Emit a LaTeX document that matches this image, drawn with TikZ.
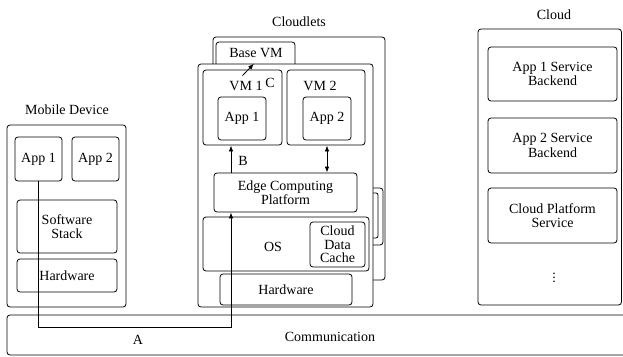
\documentclass[tikz,border=0pt]{standalone}
\usepackage{fontspec}
\setmainfont{Liberation Serif}
\usepackage{tikz}
\usetikzlibrary
  {
    arrows.meta,              % arrow heads
    positioning,              % place nodes relative to other nodes
    calc,
  }

\begin{document}
\begin{tikzpicture}[x=1pt, y=-1pt, line width=0.8pt,
    every node/.style={font=\fontsize{14}{14.5}\selectfont},
    box/.style={draw, rounded corners=3pt, fill=white, inner sep=0pt, align=center},
    flow/.style={-{Latex[length=6pt,width=4.5pt]}},
    flows/.style={{Latex[length=6pt,width=4.5pt]}-{Latex[length=6pt,width=4.5pt]}}]
    \useasboundingbox (0,0) rectangle (623,356);
    \clip (0,0) rectangle (623,356);

    % communication layer at the bottom
    \node [box, minimum width=633, minimum height=40] (comm) at (323.5,335) {};
    \node (commtext) at (330,337) {Communication};

    % mobile device
    \node (mobiletitle) at (67,110) {Mobile Device};
    \node [box, minimum width=119, minimum height=182] (mobile) at (66.5,216) {};
    \node [box, minimum width=47, minimum height=44] (mapp1) at (38.5,159) {App 1};
    \node [box, minimum width=47, minimum height=44] (mapp2) at (95.5,159) {App 2};
    \node [box, minimum width=100, minimum height=53] (mstack) at (67,226.5) {Software\\Stack};
    \node [box, minimum width=100, minimum height=33] (mhw) at (67,275.5) {Hardware};

    % cloudlets, the one behind first
    \node (cloudletstitle) at (299,22) {Cloudlets};
    \node [box, minimum width=172, minimum height=243] (cloudlet) at (299,158.5) {};
    \draw [rounded corners=3pt] (362,188) rectangle (383,245);
    \draw [rounded corners=2pt] (366,193) rectangle (378,238);
    \node [box, minimum width=79, minimum height=30] (basevm) at (255.5,57) {};
    \node (basevmtext) at (256,53) {Base VM};
    \node [box, minimum width=175, minimum height=243] (front) at (285.5,185.5) {};

    \node [box, minimum width=79, minimum height=75] (vm1) at (242.5,107.5) {};
    \node (vm1text) at (246,86) {VM 1};
    \node [box, minimum width=48, minimum height=43] (vapp1) at (242,118.5) {App 1};
    \node [box, minimum width=78, minimum height=75] (vm2) at (326,107.5) {};
    \node (vm2text) at (320,86) {VM 2};
    \node [box, minimum width=48, minimum height=43] (vapp2) at (327,118.5) {App 2};

    \node [box, minimum width=143, minimum height=39] (edge) at (285.5,192.5) {Edge Computing\\Platform};
    \node [box, minimum width=166, minimum height=54] (os) at (286,244) {};
    \node (ostext) at (273,247) {OS};
    \node [box, minimum width=55, minimum height=45, font=\fontsize{14}{13.5}\selectfont]
      (cache) at (337.5,244.5) {Cloud\\Data\\Cache};
    \node [box, minimum width=132, minimum height=31] (chw) at (286,289.5) {Hardware};

    % cloud
    \node (cloudtitle) at (554,15) {Cloud};
    \node [box, minimum width=143.5, minimum height=276] (cloud) at (549.75,167) {};
    \node [box, minimum width=129, minimum height=54] (s1) at (552.5,74) {App 1 Service\\Backend};
    \node [box, minimum width=129, minimum height=55] (s2) at (552.5,145.5) {App 2 Service\\Backend};
    \node [box, minimum width=129, minimum height=55] (s3) at (552.5,215.5) {Cloud Platform\\Service};
    \node (dots) at (554,275) {$\vdots$};

    % paths A, B, C
    \coordinate (turn) at (231,327);
    \coordinate (sync) at (327,160);
    \draw [flow] (mapp1.south) |- (turn) -- (turn |- edge.south);
    \draw [flow] (edge.north -| turn) -- (vm1.south -| turn);
    \draw [flows] (vm2.south -| sync) -- (edge.north -| sync);
    \draw [flow] ([yshift=-6pt]vm1.north) -- ([xshift=-1.5pt]basevm.south |- front.north);

    \node (A) at (138,340) {A};
    \node (B) at (243,161) {B};
    \node (C) at (270,83) {C};

  \end{tikzpicture}
\end{document}
